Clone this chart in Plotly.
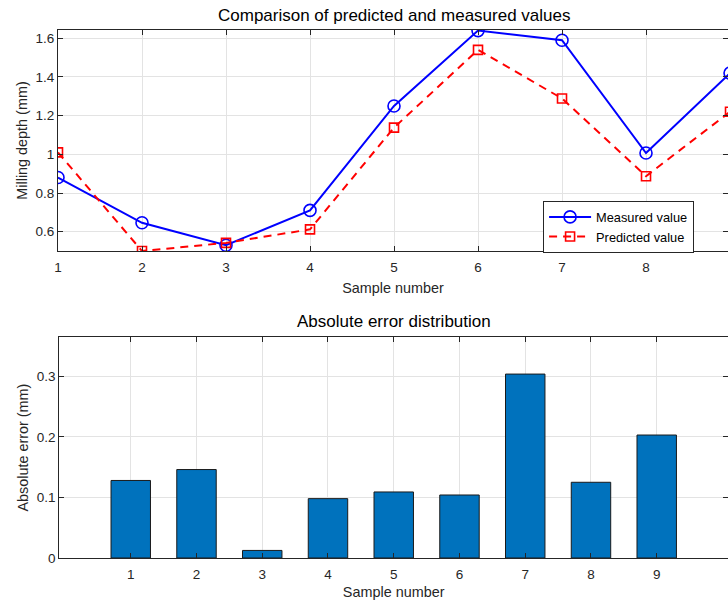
import plotly.graph_objects as go

samples = [1, 2, 3, 4, 5, 6, 7, 8, 9]
measured = [0.88, 0.646, 0.53, 0.71, 1.25, 1.64, 1.59, 1.007, 1.42]
predicted = [1.01, 0.50, 0.542, 0.612, 1.138, 1.54, 1.289, 0.887, 1.22]
abs_error = [0.128, 0.146, 0.0125, 0.098, 0.109, 0.104, 0.3036, 0.125, 0.203]

top_yticks = [0.6, 0.8, 1.0, 1.2, 1.4, 1.6]
top_yticklabels = ["0.6", "0.8", "1", "1.2", "1.4", "1.6"]
bot_yticks = [0, 0.1, 0.2, 0.3]
bot_yticklabels = ["0", "0.1", "0.2", "0.3"]

FONT = "Liberation Sans, Arial, Helvetica, sans-serif"
AX = "#262626"
GRID = "#e3e3e3"

fig = go.Figure()
fig.add_trace(go.Scatter(
    x=samples, y=measured, mode="lines+markers", name="Measured value",
    line=dict(color="#0000ff", width=2),
    marker=dict(symbol="circle-open", size=12, color="#0000ff", line=dict(width=1.6, color="#0000ff")),
    xaxis="x", yaxis="y"))
fig.add_trace(go.Scatter(
    x=samples, y=predicted, mode="lines+markers", name="Predicted value",
    line=dict(color="#ff0000", width=2, dash="8px,6px"),
    marker=dict(symbol="square-open", size=9, color="#ff0000", line=dict(width=1.6, color="#ff0000")),
    xaxis="x", yaxis="y"))
fig.add_trace(go.Bar(
    x=samples, y=abs_error, width=0.6, showlegend=False,
    marker=dict(color="#0072BD", line=dict(color="#1a1a1a", width=1)),
    xaxis="x2", yaxis="y2"))

common = dict(showline=True, linecolor=AX, linewidth=1, mirror="ticks", ticks="inside",
              ticklen=5, tickcolor=AX, showgrid=True, gridcolor=GRID, gridwidth=1,
              zeroline=False, automargin=False,
              tickfont=dict(family=FONT, size=13.5, color=AX))
xt = dict(text="Sample number", standoff=8, font=dict(family=FONT, size=14.4, color=AX))

fig.update_layout(
    width=728, height=600,
    margin=dict(l=58, r=0, t=30, b=42),
    paper_bgcolor="white", plot_bgcolor="white",
    font=dict(family=FONT, size=12, color=AX),
    xaxis=dict(domain=[0, 1], anchor="y", range=[1, 8.976], tickvals=samples,
               ticklabelstandoff=4, title=xt, **common),
    yaxis=dict(domain=[0.5814, 1], anchor="x", range=[0.5, 1.643], tickvals=top_yticks,
               ticktext=top_yticklabels,
               title=dict(text="Milling depth (mm)", standoff=4, font=dict(family=FONT, size=14.4, color=AX)),
               **common),
    xaxis2=dict(domain=[0.002, 1], anchor="y2", range=[-0.086, 10.084], tickvals=samples,
                ticklabelstandoff=4, title=xt, **common),
    yaxis2=dict(domain=[0, 0.418], anchor="x2", range=[0, 0.3643], tickvals=bot_yticks,
                ticktext=bot_yticklabels,
                title=dict(text="Absolute error (mm)", standoff=4, font=dict(family=FONT, size=14.4, color=AX)),
                **common),
    legend=dict(x=0.724, y=0.676, xanchor="left", yanchor="top",
                bgcolor="white", bordercolor=AX, borderwidth=1, itemwidth=42,
                font=dict(family=FONT, size=12.8, color="#000000"), tracegroupgap=0),
    annotations=[
        dict(text="Comparison of predicted and measured values", xref="paper", yref="paper",
             x=0.5015, y=1.0, yshift=3, xanchor="center", yanchor="bottom", showarrow=False,
             font=dict(family=FONT, size=17, color="#000000")),
        dict(text="Absolute error distribution", xref="paper", yref="paper",
             x=0.5015, y=0.418, yshift=4, xanchor="center", yanchor="bottom", showarrow=False,
             font=dict(family=FONT, size=17, color="#000000")),
    ],
)

fig.write_html("out.html", config={"displayModeBar": False},
               post_script="document.body.style.margin='0';")
